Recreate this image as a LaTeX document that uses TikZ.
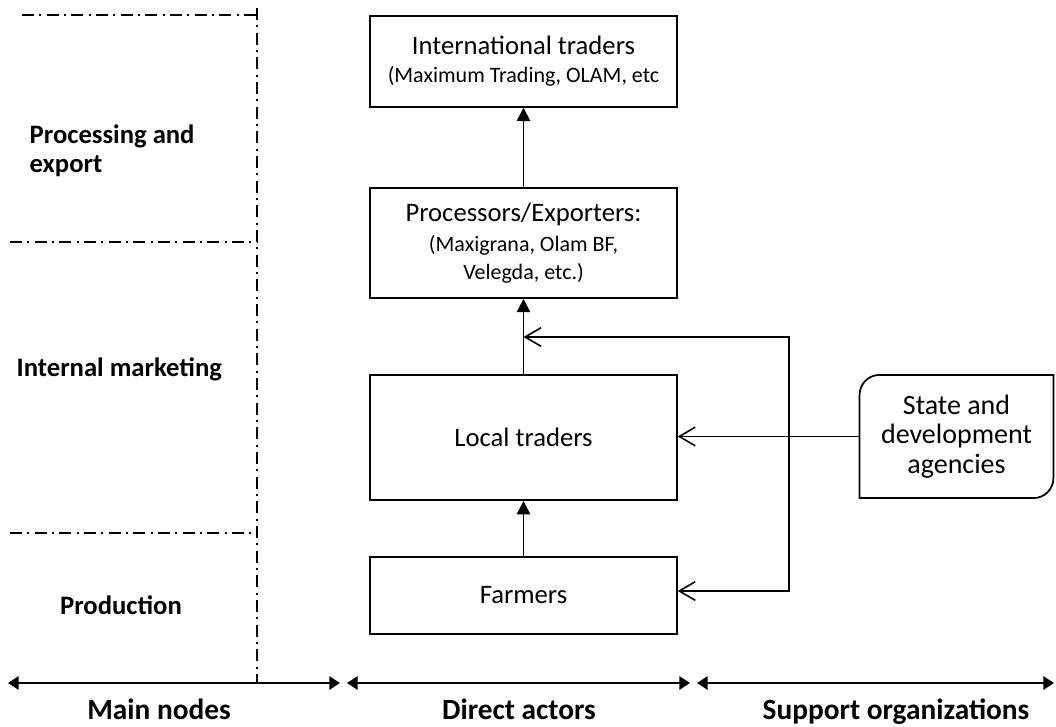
\documentclass[tikz,border=0pt]{standalone}
\usepackage{fontspec}
\setmainfont{Carlito}
\usetikzlibrary{arrows.meta}

\newcommand{\subtext}{\fontsize{16.5}{19.5}\selectfont}

\tikzset{
  actor/.style={draw, line width=1.3pt, minimum width=230pt, align=center,
    font=\fontsize{20}{23}\selectfont},
  level/.style={font=\fontsize{20}{22}\selectfont\bfseries, align=left},
  spanlabel/.style={font=\fontsize{22}{26}\selectfont\bfseries, anchor=base},
  divider/.style={line width=0.8pt, dash pattern=on 9pt off 4pt on 1.5pt off 4pt},
  flow/.style={line width=1.3pt, -{Triangle[length=10pt,width=10pt]}},
  support/.style={line width=1.3pt, -{Straight Barb[length=12pt,width=14pt,line width=1.2pt]}},
  spanarrow/.style={line width=1.5pt, {Triangle[length=8pt,width=10pt]}-{Triangle[length=8pt,width=10pt]}}
}

\begin{document}
\begin{tikzpicture}[x=0.75pt, y=-0.75pt]
\useasboundingbox (0,0) rectangle (1056,727);

% levels of the chain
\draw[divider] (22,15) -- (257,15);
\draw[divider] (10,242) -- (257,242);
\draw[divider] (10,533) -- (257,533);
\draw[divider] (257,8) -- (257,683);

\node[level, anchor=west] (export) at (25,151) {Processing and\\export};
\node[level, anchor=west] (market) at (12,369) {Internal marketing};
\node[level] (prod) at (121,605) {Production};

% direct actors
\node[actor, minimum height=68pt] (intl) at (523.5,61.5)
  {International traders\\[-2pt]{\subtext (Maximum Trading, OLAM, etc}};
\node[actor, minimum height=82.5pt] (proc) at (523.5,243)
  {Processors/Exporters:\\[-1pt]{\subtext (Maxigrana, Olam BF,}\\[-2pt]{\subtext Velegda, etc.)}};
\node[actor, minimum height=94pt] (local) at (523.5,437.5) {Local traders};
\node[actor, minimum height=58pt] (farm) at (523.5,595.5) {Farmers};

% support organizations
\node[minimum width=145pt, minimum height=92pt, align=center,
  font=\fontsize{21}{22}\selectfont] (agency) at (956.5,436.5)
  {State and\\development\\agencies};
\draw[line width=1.3pt] (agency.south west) -- ([yshift=-15pt]agency.north west)
  arc[start angle=180, end angle=90, radius=15pt] -- (agency.north east)
  -- ([yshift=15pt]agency.south east)
  arc[start angle=0, end angle=-90, radius=15pt] -- cycle;

\draw[flow] (proc.north) -- (intl.south);
\draw[flow] (local.north) -- (proc.south);
\draw[flow] (farm.north) -- (local.south);

\coordinate (fbtop) at (789,337);
\coordinate (fbbot) at (789,591);
\draw[support] (agency.west) -- (agency.west -| local.east);
\draw[support] (fbbot) -- (fbtop) -- (local.north |- fbtop);
\draw[support] (fbtop) -- (fbbot) -- (farm.east |- fbbot);

% spans
\draw[spanarrow] (8,683) -- (340,683);
\draw[spanarrow] (347,683) -- (690,683);
\draw[spanarrow] (697,683) -- (1054,683);
\node[spanlabel] (nodes) at (159,719) {Main nodes};
\node[spanlabel] (actors) at (519,719) {Direct actors};
\node[spanlabel] (orgs) at (896,719) {Support organizations};

\end{tikzpicture}
\end{document}
